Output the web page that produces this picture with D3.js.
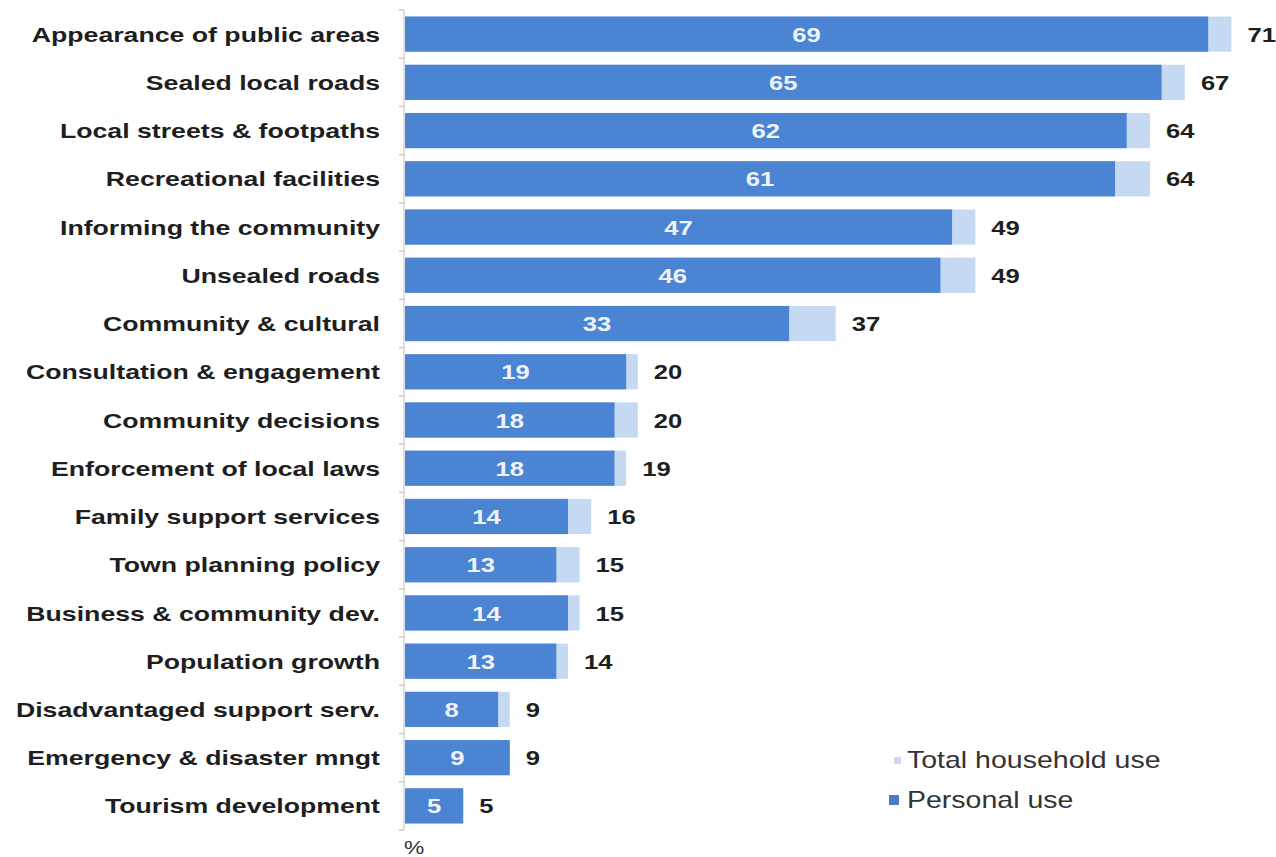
<!DOCTYPE html>
<html>
<head>
<meta charset="utf-8">
<script src="https://cdn.jsdelivr.net/npm/d3@7"></script>
<style>
  html, body { margin: 0; padding: 0; background: #ffffff; }
  svg { display: block; }
</style>
</head>
<body>
<svg id="chart" width="1276" height="857"></svg>
<script>
// Service areas, ordered as shown (top to bottom)
const categories = [
  "Appearance of public areas",
  "Sealed local roads",
  "Local streets & footpaths",
  "Recreational facilities",
  "Informing the community",
  "Unsealed roads",
  "Community & cultural",
  "Consultation & engagement",
  "Community decisions",
  "Enforcement of local laws",
  "Family support services",
  "Town planning policy",
  "Business & community dev.",
  "Population growth",
  "Disadvantaged support serv.",
  "Emergency & disaster mngt",
  "Tourism development"
];

// Percentage of respondents: personal use and total household use
const personalUse  = [69, 65, 62, 61, 47, 46, 33, 19, 18, 18, 14, 13, 14, 13, 8, 9, 5];
const householdUse = [71, 67, 64, 64, 49, 49, 37, 20, 20, 19, 16, 15, 15, 14, 9, 9, 5];

const seriesNames = ["Total household use", "Personal use"];
const axisUnit = "%";

const colors = {
  household: "#c6d9f3",
  personal: "#4a84d2",
  householdKey: "#d3d6ec",
  personalKey: "#4b79c2",
  text: "#1e1e1e",
  axis: "#d4d4d4",
  tick: "#d8c9ae"
};

const data = categories.map((c, i) => ({
  category: c,
  personal: personalUse[i],
  household: householdUse[i]
}));

const svg = d3.select("#chart");
const font = "'Liberation Sans', Arial, sans-serif";

// Wide lettering: text is drawn at its anchor, then widened horizontally
const place = (px, py, sx) => `translate(${px},${py}) scale(${sx},1)`;

const x = d3.scaleLinear().domain([0, 100]).range([405, 1569]);
const y = d3.scaleBand()
  .domain(categories)
  .range([10, 830])
  .paddingInner(0.27)
  .paddingOuter(0.135);
const yMid = d => y(d.category) + y.bandwidth() / 2;

// Total household bars (behind)
svg.append("g").selectAll("rect")
  .data(data).join("rect")
  .attr("x", x(0))
  .attr("y", d => y(d.category))
  .attr("width", d => x(d.household) - x(0))
  .attr("height", y.bandwidth())
  .attr("fill", colors.household);

// Personal use bars (front)
svg.append("g").selectAll("rect")
  .data(data).join("rect")
  .attr("x", x(0))
  .attr("y", d => y(d.category))
  .attr("width", d => x(d.personal) - x(0))
  .attr("height", y.bandwidth())
  .attr("fill", colors.personal);

// Category axis: vertical line with ticks between categories
const boundaries = d3.range(categories.length + 1).map(i => 10 + i * y.step());
const axisG = svg.append("g");
axisG.append("line")
  .attr("x1", x(0) - 1).attr("x2", x(0) - 1)
  .attr("y1", 10).attr("y2", 830)
  .attr("stroke", colors.axis).attr("stroke-width", 1.5);
axisG.selectAll("line.tick")
  .data(boundaries).join("line")
  .attr("class", "tick")
  .attr("x1", x(0) - 6).attr("x2", x(0) - 1)
  .attr("y1", d => d).attr("y2", d => d)
  .attr("stroke", colors.tick).attr("stroke-width", 1.5);

// Category labels
svg.append("g").selectAll("text")
  .data(data).join("text")
  .attr("transform", d => place(380, yMid(d), 1.27))
  .attr("dy", "0.36em")
  .attr("text-anchor", "end")
  .attr("font-family", font)
  .attr("font-weight", "bold")
  .attr("font-size", 21)
  .attr("fill", colors.text)
  .text(d => d.category);

// Personal-use values inside bars
svg.append("g").selectAll("text")
  .data(data).join("text")
  .attr("transform", d => place((x(0) + x(d.personal)) / 2, yMid(d), 1.22))
  .attr("dy", "0.36em")
  .attr("text-anchor", "middle")
  .attr("font-family", font)
  .attr("font-weight", "bold")
  .attr("font-size", 21)
  .attr("fill", "#eef3fb")
  .text(d => d.personal);

// Household totals to the right of bars
svg.append("g").selectAll("text")
  .data(data).join("text")
  .attr("transform", d => place(x(Math.max(d.household, d.personal)) + 16, yMid(d), 1.22))
  .attr("dy", "0.36em")
  .attr("text-anchor", "start")
  .attr("font-family", font)
  .attr("font-weight", "bold")
  .attr("font-size", 21)
  .attr("fill", colors.text)
  .text(d => d.household);

// Unit label under the axis
svg.append("text")
  .attr("transform", place(404, 854, 1.2))
  .attr("font-family", font)
  .attr("font-size", 19)
  .attr("fill", "#333")
  .text(axisUnit);

// Legend
const legend = svg.append("g");
legend.append("rect")
  .attr("x", 894).attr("y", 757).attr("width", 7).attr("height", 7)
  .attr("fill", colors.householdKey);
legend.append("rect")
  .attr("x", 889).attr("y", 795).attr("width", 10).attr("height", 10)
  .attr("fill", colors.personalKey);
legend.selectAll("text")
  .data(seriesNames).join("text")
  .attr("transform", (d, i) => place(907, 760 + i * 40, 1.24))
  .attr("dy", "0.36em")
  .attr("font-family", font)
  .attr("font-size", 23)
  .attr("fill", "#333")
  .text(d => d);
</script>
</body>
</html>
